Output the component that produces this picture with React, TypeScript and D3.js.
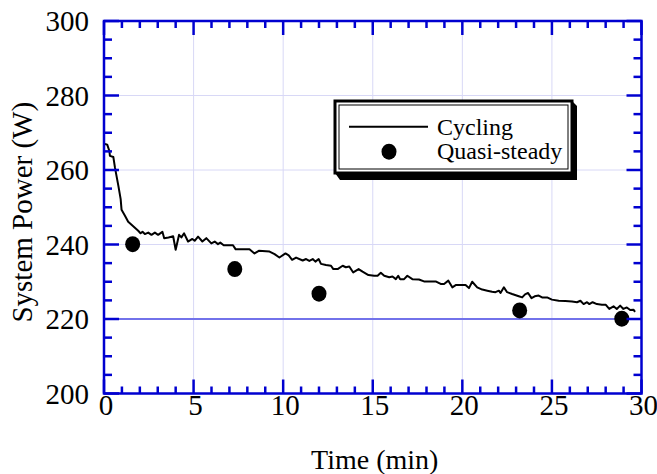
import React from "react";
import * as d3 from "d3";

// ---- Data ----
const cyclingTime = [
  0.05, 0.18, 0.3, 0.33, 0.52, 0.61, 0.8, 0.93, 0.98, 1.17, 1.35, 1.63, 1.91, 2.04, 2.15, 2.28, 2.47, 2.65, 2.84, 3.02,
  3.26, 3.36, 3.6, 3.86, 4.0, 4.19, 4.32, 4.47, 4.69, 4.93, 5.06, 5.25, 5.49, 5.71, 5.99, 6.18, 6.36, 6.49, 6.68, 7.2,
  7.35, 8.12, 8.4, 8.64, 9.24, 9.52, 9.79, 10.13, 10.31, 10.5, 10.72, 11.09, 11.28, 11.46, 11.65, 11.8, 11.98, 12.11,
  12.39, 12.67, 12.8, 13.04, 13.32, 13.5, 13.69, 13.91, 14.21, 14.43, 14.76, 15.08, 15.27, 15.45, 15.64, 15.92, 16.1,
  16.29, 16.42, 16.53, 16.75, 16.93, 17.21, 17.58, 17.86, 18.51, 18.79, 18.98, 19.22, 19.44, 19.63, 20.18, 20.37,
  20.55, 20.83, 21.11, 21.39, 21.66, 21.85, 22.04, 22.13, 22.32, 22.5, 22.78, 23.15, 23.34, 23.5, 23.67, 23.86, 24.04,
  24.26, 24.45, 24.73, 25.0, 25.38, 25.75, 26.12, 26.4, 26.59, 26.77, 26.96, 27.09, 27.27, 27.51, 27.79, 28.01, 28.2,
  28.44, 28.62, 28.81, 28.99, 29.18, 29.37, 29.55, 29.64,
];
const cyclingPower = [
  267.0, 266.8, 265.1, 263.8, 263.5, 260.7, 255.8, 252.2, 249.3, 247.7, 246.1, 244.9, 243.7, 243.0, 243.4, 242.8, 243.2,
  242.6, 243.2, 242.6, 243.4, 241.7, 241.9, 242.2, 238.6, 242.6, 241.9, 243.0, 240.8, 241.5, 241.0, 242.1, 240.8, 241.7,
  240.3, 240.8, 240.1, 240.5, 239.8, 239.8, 238.7, 238.7, 237.6, 238.3, 238.1, 237.4, 236.5, 237.6, 237.1, 235.9, 236.5,
  235.7, 236.1, 235.6, 236.1, 235.4, 236.1, 234.8, 234.5, 234.3, 233.4, 233.4, 234.3, 233.9, 234.1, 232.5, 233.4, 232.7,
  231.8, 231.6, 231.6, 232.4, 231.6, 231.2, 231.4, 230.7, 231.6, 230.7, 230.7, 231.6, 230.7, 230.6, 230.1, 230.1, 229.4,
  229.4, 230.3, 228.5, 229.1, 229.1, 228.3, 230.0, 228.5, 227.9, 227.6, 227.3, 227.2, 227.6, 227.0, 228.5, 227.2, 226.7,
  226.1, 225.8, 226.6, 227.0, 225.6, 226.1, 226.3, 225.8, 225.8, 225.2, 224.9, 224.8, 224.7, 224.5, 224.9, 224.0, 224.5,
  224.0, 224.5, 224.0, 223.8, 223.8, 222.7, 223.4, 222.7, 223.6, 222.7, 223.1, 222.4, 222.5, 221.9,
];
const quasiTime = [1.6, 7.3, 12.0, 23.2, 28.9];
const quasiPower = [240.1, 233.4, 226.8, 222.3, 220.1];
const referencePower = 220;

const seriesNames = ["Cycling", "Quasi-steady"];
const xTicks = [0, 5, 10, 15, 20, 25, 30];
const yTicks = [200, 220, 240, 260, 280, 300];
const xLabel = "Time (min)";
const yLabel = "System Power (W)";

// ---- Layout ----
const W = 657;
const H = 474;
const L = 104, R = 641.5, T = 21, B = 393.5;
const FONT = "'Liberation Serif', 'Times New Roman', serif";
const AXIS = "#0000d0";
const GRID = "#d8d8f6";

export default function App() {
  const x = d3.scaleLinear().domain([0, 30]).range([L, R]);
  const y = d3.scaleLinear().domain([200, 300]).range([B, T]);
  const xMinor = d3.range(0, 31, 1).filter((v) => v % 5 !== 0);
  const yMinor = d3.range(200, 301, 5).filter((v) => v % 20 !== 0);

  const pts: [number, number][] = cyclingTime.map((t, i) => [t, cyclingPower[i]]);
  const line = d3
    .line<[number, number]>()
    .x((d) => x(d[0]))
    .y((d) => y(d[1]));

  // legend geometry
  const lx = 335, ly = 101, lw = 237, lh = 72, sh = 5;

  return (
    <svg
      width={W}
      height={H}
      style={{ position: "absolute", left: 0, top: 0, background: "#fff" }}
      fontFamily={FONT}
    >
      <rect x={0} y={0} width={W} height={H} fill="#fff" />
      {/* grid */}
      {xTicks.slice(1, -1).map((v) => (
        <line key={"gx" + v} x1={x(v)} x2={x(v)} y1={T} y2={B} stroke={GRID} strokeWidth={1} />
      ))}
      {yTicks.slice(2, -1).map((v) => (
        <line key={"gy" + v} x1={L} x2={R} y1={y(v)} y2={y(v)} stroke={GRID} strokeWidth={1} />
      ))}
      {/* reference line */}
      <line x1={L} x2={R} y1={y(referencePower)} y2={y(referencePower)} stroke="#7272ea" strokeWidth={2} />

      {/* cycling line */}
      <path d={line(pts) || ""} fill="none" stroke="#000" strokeWidth={2} strokeLinejoin="round" />

      {/* quasi-steady points */}
      {quasiTime.map((t, i) => (
        <ellipse key={"q" + i} cx={x(t)} cy={y(quasiPower[i])} rx={7.5} ry={8} fill="#000" />
      ))}

      {/* ticks */}
      {xTicks.map((v) => (
        <g key={"xt" + v}>
          <line x1={x(v)} x2={x(v)} y1={B} y2={B - 14} stroke={AXIS} strokeWidth={2.5} />
          <line x1={x(v)} x2={x(v)} y1={T} y2={T + 14} stroke={AXIS} strokeWidth={2.5} />
        </g>
      ))}
      {xMinor.map((v) => (
        <g key={"xm" + v}>
          <line x1={x(v)} x2={x(v)} y1={B} y2={B - 7} stroke={AXIS} strokeWidth={2.5} />
          <line x1={x(v)} x2={x(v)} y1={T} y2={T + 7} stroke={AXIS} strokeWidth={2.5} />
        </g>
      ))}
      {yTicks.map((v) => (
        <g key={"yt" + v}>
          <line x1={L} x2={L + 15} y1={y(v)} y2={y(v)} stroke={AXIS} strokeWidth={2.5} />
          <line x1={R} x2={R - 15} y1={y(v)} y2={y(v)} stroke={AXIS} strokeWidth={2.5} />
        </g>
      ))}
      {yMinor.map((v) => (
        <g key={"ym" + v}>
          <line x1={L} x2={L + 8} y1={y(v)} y2={y(v)} stroke={AXIS} strokeWidth={2.5} />
          <line x1={R} x2={R - 8} y1={y(v)} y2={y(v)} stroke={AXIS} strokeWidth={2.5} />
        </g>
      ))}
      {/* frame */}
      <rect x={L} y={T} width={R - L} height={B - T} fill="none" stroke={AXIS} strokeWidth={2.5} />

      {/* tick labels */}
      {xTicks.map((v) => (
        <text key={"xl" + v} x={x(v) + 2} y={415} fontSize={29} textAnchor="middle" fill="#000">
          {v}
        </text>
      ))}
      {yTicks.map((v) => (
        <text key={"yl" + v} x={89} y={y(v) + 10} fontSize={29} textAnchor="end" fill="#000">
          {v}
        </text>
      ))}
      {/* axis titles */}
      <text x={(L + R) / 2 + 2} y={469} fontSize={28} textAnchor="middle" fill="#000">
        {xLabel}
      </text>
      <text
        transform={`translate(32, ${(T + B) / 2 + 5}) rotate(-90)`}
        fontSize={29}
        textAnchor="middle"
        fill="#000"
      >
        {yLabel}
      </text>

      {/* legend */}
      <polygon
        points={`${lx + lw},${ly} ${lx + lw + sh},${ly + sh} ${lx + lw + sh},${ly + lh + sh + 2} ${lx + sh},${
          ly + lh + sh + 2
        } ${lx},${ly + lh}`}
        fill="#000"
      />
      <rect x={lx} y={ly} width={lw} height={lh} fill="#fff" stroke="#000" strokeWidth={3} />
      <rect x={lx + 4} y={ly + 4} width={lw - 8} height={lh - 8} fill="none" stroke="#000" strokeWidth={1} />
      <line x1={349} x2={428} y1={126.7} y2={126.7} stroke="#000" strokeWidth={2} />
      <text x={437} y={135} fontSize={24} fill="#000">
        {seriesNames[0]}
      </text>
      <ellipse cx={389} cy={151.7} rx={7.5} ry={8} fill="#000" />
      <text x={437} y={159} fontSize={24} fill="#000">
        {seriesNames[1]}
      </text>
    </svg>
  );
}
